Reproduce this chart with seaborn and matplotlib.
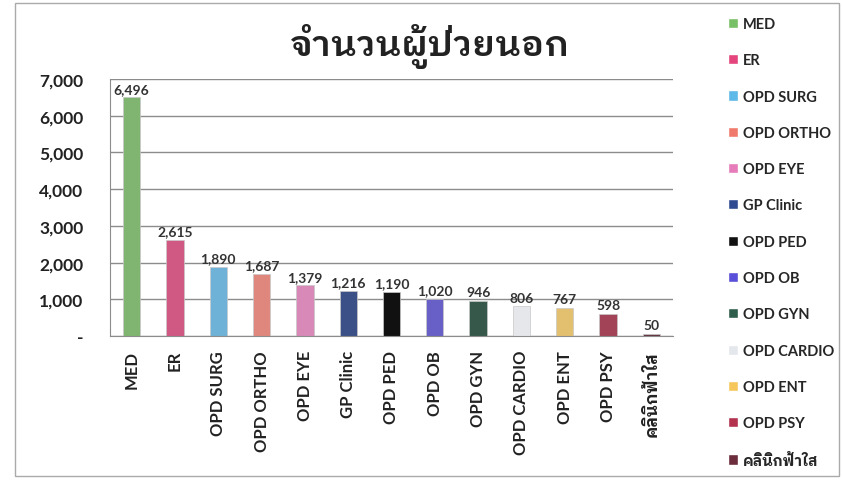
import matplotlib
matplotlib.use("Agg")
import matplotlib.pyplot as plt
import seaborn as sns
from matplotlib.patches import Patch, Rectangle
from matplotlib.ticker import FuncFormatter, MultipleLocator

title = "จำนวนผู้ป่วยนอก"
clinics = ["MED", "ER", "OPD SURG", "OPD ORTHO", "OPD EYE", "GP Clinic", "OPD PED",
           "OPD OB", "OPD GYN", "OPD CARDIO", "OPD ENT", "OPD PSY", "คลินิกฟ้าใส"]
patients = [6496, 2615, 1890, 1687, 1379, 1216, 1190, 1020, 946, 806, 767, 598, 50]
colors = ["#78c065", "#e3457c", "#5db9e8", "#ef7a6c", "#e67cb9", "#2f4b92", "#111111",
          "#5a4fd8", "#2f5e4c", "#e4e7ec", "#f6c75c", "#b3334f", "#6b2c3c"]

sns.set_style("white")
# Lato for latin text, a looped Thai face for the Thai glyphs
plt.rcParams["font.family"] = ["Lato", "IBM Plex Sans Thai Looped", "DejaVu Sans"]

fig = plt.figure(figsize=(8.42, 4.81), dpi=100)
ax = fig.add_axes([0.1306, 0.2994, 0.6687, 0.5343])

sns.barplot(x=clinics, y=patients, hue=clinics, palette=colors, legend=False,
            width=0.4, ax=ax, edgecolor="#c8c8c8", linewidth=0.5)

for c in ax.containers:
    ax.bar_label(c, fmt="{:,.0f}", fontsize=10, fontweight="bold", color="#333333", padding=2)

ax.set_ylim(0, 7000)
ax.set_xlim(-0.5, len(clinics) - 0.5)
ax.yaxis.set_major_locator(MultipleLocator(1000))
ax.yaxis.set_major_formatter(FuncFormatter(lambda v, p: "-" if v == 0 else f"{v:,.0f}"))
ax.grid(axis="y", color="#8c8c8c", linewidth=1)
ax.set_axisbelow(True)
for s in ["top", "right"]:
    ax.spines[s].set_visible(False)
for s in ["left", "bottom"]:
    ax.spines[s].set_color("#8c8c8c")
ax.tick_params(axis="y", labelsize=12.5, length=4, color="#8c8c8c", pad=15)
ax.tick_params(axis="x", labelsize=12, rotation=90, length=0, pad=10)
ax.set_xticks([i - 0.5 for i in range(len(clinics) + 1)], minor=True)
ax.tick_params(axis="x", which="minor", length=4, color="#8c8c8c")
for lab in ax.get_xticklabels() + ax.get_yticklabels():
    lab.set_fontweight("bold")
    lab.set_color("#222222")
ax.set_xlabel("")
ax.set_ylabel("")

fig.text(0.51, 0.903, title, ha="center", va="center", fontsize=26, fontweight="semibold",
         color="#222222", family=["IBM Plex Sans Thai Looped", "DejaVu Sans"])

handles = [Patch(facecolor=c, label=n) for c, n in zip(colors, clinics)]
fig.legend(handles=handles, loc="upper left", bbox_to_anchor=(0.849, 0.99), frameon=False,
           handlelength=0.7, handleheight=0.7, handletextpad=0.3, labelspacing=1.53,
           prop={"weight": "bold", "size": 10.5})

fig.add_artist(Rectangle((0.018, 0.008), 0.978, 0.984, transform=fig.transFigure,
                         fill=False, edgecolor="#aaaaaa", linewidth=1))

fig.savefig("out.png", dpi=100)
